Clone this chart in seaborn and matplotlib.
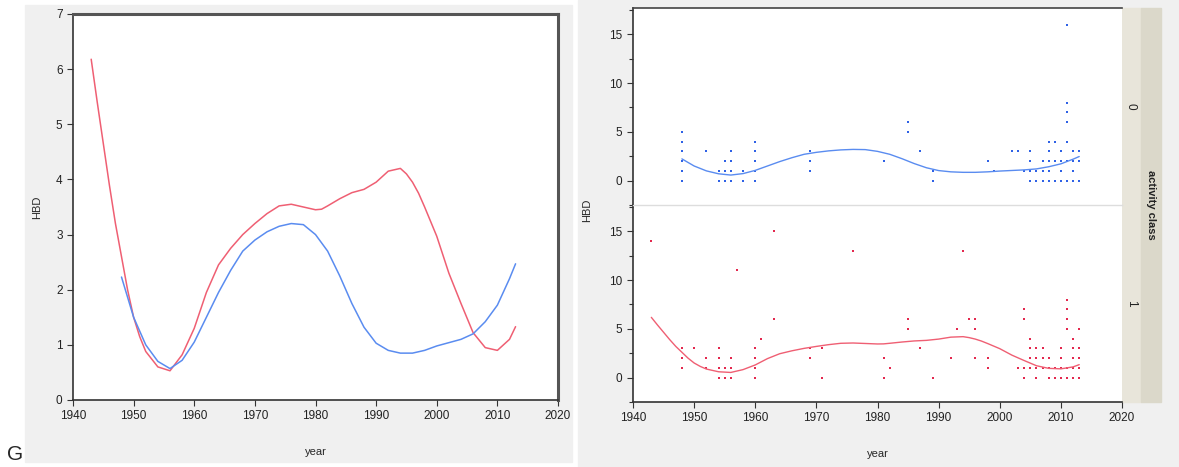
import numpy as np
import pandas as pd
import matplotlib
matplotlib.use("Agg")
import matplotlib.pyplot as plt
from matplotlib.patches import Rectangle
from matplotlib.ticker import MultipleLocator
import seaborn as sns

# smoother curves (HBD by year)
red_years = [1943, 1944, 1945, 1946, 1947, 1948, 1949, 1950, 1951, 1952, 1954, 1956, 1958,
             1960, 1962, 1964, 1966, 1968, 1970, 1972, 1974, 1976, 1978, 1980, 1981, 1982,
             1984, 1986, 1988, 1990, 1992, 1994, 1995, 1996, 1997, 1998, 2000, 2002, 2004,
             2006, 2008, 2010, 2012, 2013]
red_hbd = [6.18, 5.4, 4.65, 3.9, 3.2, 2.6, 2.0, 1.5, 1.15, 0.88, 0.6, 0.53, 0.82,
           1.3, 1.95, 2.45, 2.75, 3.0, 3.2, 3.38, 3.52, 3.55, 3.5, 3.45, 3.46, 3.52,
           3.65, 3.76, 3.82, 3.95, 4.15, 4.2, 4.1, 3.95, 3.75, 3.5, 2.97, 2.3, 1.75,
           1.22, 0.95, 0.9, 1.1, 1.33]

blue_years = [1948, 1950, 1952, 1954, 1956, 1958, 1960, 1962, 1964, 1966, 1968, 1970,
              1972, 1974, 1976, 1978, 1980, 1982, 1984, 1986, 1988, 1990, 1992, 1994,
              1996, 1998, 2000, 2002, 2004, 2006, 2008, 2010, 2012, 2013]
blue_hbd = [2.23, 1.5, 1.0, 0.7, 0.57, 0.72, 1.05, 1.5, 1.95, 2.35, 2.7, 2.9,
            3.05, 3.15, 3.2, 3.18, 3.0, 2.7, 2.25, 1.75, 1.32, 1.03, 0.9, 0.85,
            0.85, 0.9, 0.98, 1.04, 1.1, 1.2, 1.42, 1.72, 2.2, 2.47]

# raw observations, activity class 0
class0 = {
    1948: [0, 1, 2, 3, 4, 5], 1952: [3], 1954: [0, 1], 1955: [0, 1, 2], 1956: [0, 1, 2, 3],
    1958: [0, 1], 1960: [0, 1, 1, 2, 3, 4], 1969: [1, 2, 3], 1981: [2], 1985: [5, 6],
    1987: [3], 1989: [0, 1], 1998: [2], 1999: [1], 2002: [3], 2003: [3], 2004: [1],
    2005: [0, 1, 2, 3], 2006: [0, 1], 2007: [0, 1, 2], 2008: [0, 1, 2, 3, 4],
    2009: [0, 2, 4], 2010: [0, 1, 2, 3], 2011: [0, 2, 4, 6, 7, 8, 16],
    2012: [0, 1, 2, 3], 2013: [0, 2, 3],
}
# raw observations, activity class 1
class1 = {
    1943: [14], 1948: [1, 2, 3], 1950: [3], 1952: [1, 2], 1954: [0, 1, 2, 3], 1955: [0, 1],
    1956: [0, 1, 2], 1957: [11], 1960: [0, 0, 1, 1, 2, 3], 1961: [4], 1963: [6, 15],
    1969: [2, 3], 1971: [0, 3], 1976: [13], 1981: [0, 2], 1982: [1], 1985: [5, 6],
    1987: [3], 1989: [0], 1992: [2], 1993: [5], 1994: [13], 1995: [6], 1996: [2, 5, 6],
    1998: [1, 2], 2003: [1], 2004: [0, 1, 6, 7], 2005: [1, 2, 3, 4], 2006: [0, 1, 2, 3],
    2007: [1, 2, 3], 2008: [0, 1, 2], 2009: [0, 1], 2010: [0, 1, 2, 3],
    2011: [0, 1, 5, 6, 7, 8], 2012: [0, 1, 2, 3, 4], 2013: [0, 1, 2, 3, 5],
}

BLUE_LINE = "#5a8cf0"
RED_LINE = "#ef5f73"
BLUE_PT = "#2f62e6"
RED_PT = "#e3284e"
GRAY_BG = "#f0f0f0"

def to_df(d):
    rows = [(y, v) for y, vals in d.items() for v in vals]
    return pd.DataFrame(rows, columns=["year", "HBD"])

obs0 = to_df(class0)
obs1 = to_df(class1)
curve0 = pd.DataFrame({"year": blue_years, "HBD": blue_hbd})
curve1 = pd.DataFrame({"year": red_years, "HBD": red_hbd})

sns.set_style("ticks")
plt.rcParams["font.family"] = ["Liberation Sans", "DejaVu Sans"]
plt.rcParams["font.size"] = 8

W, H = 1179, 467
fig = plt.figure(figsize=(W / 100, H / 100), dpi=100)

def box(x0, y0, x1, y1):
    # pixel box (top-left origin) -> figure fraction
    return [x0 / W, 1 - y1 / H, (x1 - x0) / W, (y1 - y0) / H]

def bg(x0, y0, x1, y1, color):
    fig.patches.append(Rectangle((x0 / W, 1 - y1 / H), (x1 - x0) / W, (y1 - y0) / H,
                                 transform=fig.transFigure, color=color, zorder=-5))

# background panels and facet strips
bg(25, 5, 572, 462, GRAY_BG)
bg(578, 0, W, H, GRAY_BG)
bg(1122, 8, 1141, 402, "#e8e5da")
bg(1141, 8, 1161, 402, "#dbd8ca")

def style_axis(ax):
    ax.set_facecolor("white")
    ax.tick_params(direction="out", length=4, width=0.8, colors="#333333", labelsize=8.5,
                   labelcolor="#222222")
    ax.tick_params(which="minor", length=3, width=0.8, colors="#333333")

# ---- left panel: overlaid smoothers ----
axL = fig.add_axes(box(73, 14, 558, 400))
style_axis(axL)
sns.lineplot(data=curve1, x="year", y="HBD", color=RED_LINE, lw=1.1, ax=axL)
sns.lineplot(data=curve0, x="year", y="HBD", color=BLUE_LINE, lw=1.1, ax=axL)
axL.set_xlim(1940, 2020)
axL.set_ylim(0, 7)
axL.xaxis.set_major_locator(MultipleLocator(10))
axL.yaxis.set_major_locator(MultipleLocator(1))
axL.set_xlabel("year", fontsize=8, labelpad=18)
axL.set_ylabel("HBD", fontsize=8, labelpad=10)
for s in ["left", "bottom"]:
    axL.spines[s].set_color("#333333")
    axL.spines[s].set_linewidth(1.2)
for s in ["top", "right"]:
    axL.spines[s].set_visible(True)
    axL.spines[s].set_color("#555555")
    axL.spines[s].set_linewidth(2.2)

fig.text(15 / W, 1 - 455 / H, "G", fontsize=15, ha="center", va="center",
         family=["Liberation Sans", "DejaVu Sans"])

# ---- right panel: faceted by activity class ----
axT = fig.add_axes(box(633, 8, 1122, 205))
axB = fig.add_axes(box(633, 205, 1122, 402), sharex=axT, sharey=axT)
panels = [(axT, obs0, curve0, BLUE_PT, BLUE_LINE, "0"),
          (axB, obs1, curve1, RED_PT, RED_LINE, "1")]
for ax, obs, curve, pc, lc, lab in panels:
    style_axis(ax)
    sns.scatterplot(data=obs, x="year", y="HBD", color=pc, s=4, marker="s",
                    linewidth=0, ax=ax)
    sns.lineplot(data=curve, x="year", y="HBD", color=lc, lw=1.0, ax=ax)
    ax.set_xlabel("")
    ax.set_ylabel("")
    for s in ["top", "right", "bottom"]:
        ax.spines[s].set_visible(False)
    ax.spines["left"].set_color("#333333")
    ax.spines["left"].set_linewidth(1.2)
    pos = ax.get_position()
    fig.text(1131 / W, pos.y0 + pos.height / 2, lab, rotation=-90, ha="center",
             va="center", fontsize=8.5, color="#222222")

axT.set_xlim(1940, 2020)
axT.set_ylim(-2.5, 17.7)
axT.yaxis.set_major_locator(MultipleLocator(5))
axT.yaxis.set_minor_locator(MultipleLocator(2.5))
axT.xaxis.set_major_locator(MultipleLocator(10))
axT.tick_params(axis="x", which="both", bottom=False, labelbottom=False)
axT.spines["top"].set_visible(True)
axT.spines["top"].set_color("#444444")
axT.spines["top"].set_linewidth(1.2)
axB.spines["bottom"].set_visible(True)
axB.spines["bottom"].set_color("#333333")
axB.spines["bottom"].set_linewidth(1.2)
axB.spines["top"].set_visible(True)
axB.spines["top"].set_color("#dddddd")
axB.spines["top"].set_linewidth(1.0)
axB.set_xlabel("year", fontsize=8, labelpad=18)

fig.text(587 / W, 1 - 210 / H, "HBD", rotation=90, ha="center", va="center", fontsize=8)
fig.text(1151 / W, 1 - 205 / H, "activity class", rotation=-90, ha="center", va="center",
         fontsize=8, fontweight="bold", color="#222222")

fig.savefig("out.png", dpi=100)
